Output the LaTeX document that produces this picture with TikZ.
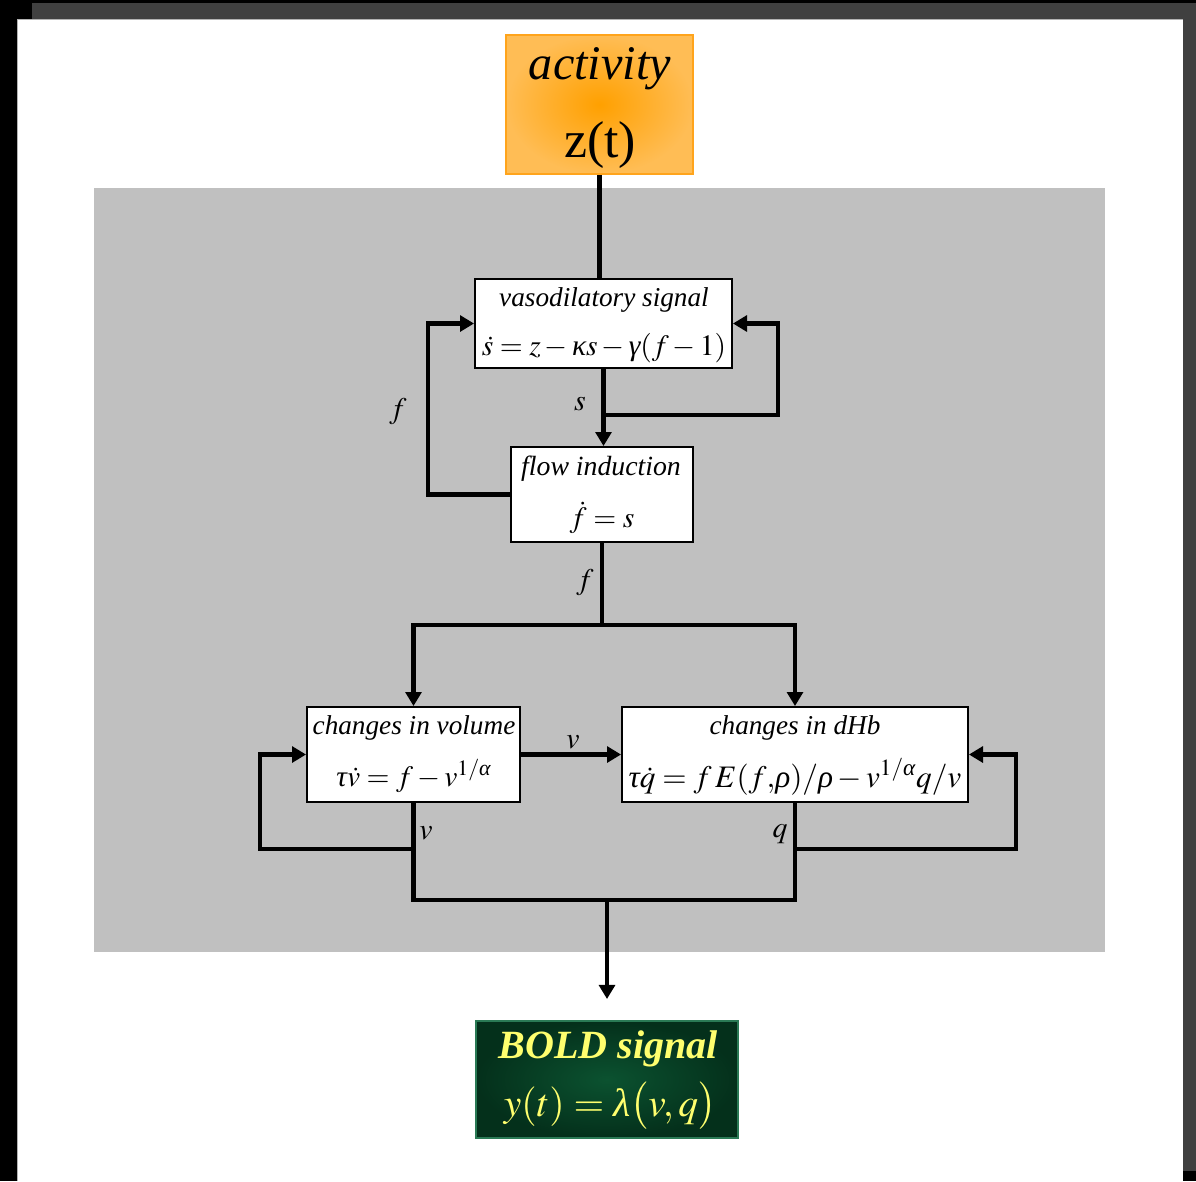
\documentclass[tikz,border=0pt]{standalone}
\usepackage{amsmath}
\usepackage{mathptmx}
\usepackage{fontspec}
\setmainfont{Liberation Serif}
\usetikzlibrary{arrows.meta}
\definecolor{panelgray}{HTML}{C0C0C0}
\definecolor{framegray}{HTML}{404040}
\definecolor{actin}{HTML}{FFA000}
\definecolor{actout}{HTML}{FFBD55}
\definecolor{actedge}{HTML}{FFA41C}
\definecolor{boldin}{HTML}{0B5230}
\definecolor{boldout}{HTML}{04301B}
\definecolor{boldedge}{HTML}{2A7A55}
\definecolor{boldtext}{HTML}{FFFF6E}
% italic Greek letters taken from the text font
\newcommand{\gi}[1]{\text{\normalfont\itshape #1}}
\begin{document}
\begin{tikzpicture}[x=0.02cm,y=-0.02cm,
  conn/.style={line width=2.3pt},
  arr/.style={conn,-{Triangle[length=8pt,width=9pt]}},
  box/.style={draw=black,fill=white,line width=1.1pt,inner sep=0pt},
  ttl/.style={anchor=base,inner sep=0pt,font=\fontsize{15.5}{18}\selectfont\itshape},
  eqn/.style={anchor=base,inner sep=0pt,font=\fontsize{16.8}{20}\selectfont},
  lbl/.style={anchor=base,inner sep=0pt,font=\fontsize{17}{20}\selectfont}]
\useasboundingbox (0,0) rectangle (1196,1181);
% window frame
\fill[black] (0,0) rectangle (1196,1181);
\fill[framegray] (32,3) rectangle (1196,1171);
\fill[white] (17,19) rectangle (1183,1181);
\draw[gray!60,line width=0.5pt] (17.3,1181) -- (17.3,19.3) -- (1183,19.3);
% model panel
\fill[panelgray] (94,188) rectangle (1105,952);

% boxes
\node[draw=actedge,line width=0.9pt,inner color=actin,outer color=actout,
      minimum width=3.74cm,minimum height=2.78cm,inner sep=0pt] (act) at (599.5,104.5) {};
\node[box,minimum width=5.14cm,minimum height=1.78cm] (vaso) at (603.5,323.5) {};
\node[box,minimum width=3.64cm,minimum height=1.9cm] (flow) at (602,494.5) {};
\node[box,minimum width=4.26cm,minimum height=1.9cm] (vol) at (413.5,754.5) {};
\node[box,minimum width=6.92cm,minimum height=1.9cm] (dhb) at (795,754.5) {};
\node[draw=boldedge,line width=1.2pt,inner color=boldin,outer color=boldout,
      minimum width=5.24cm,minimum height=2.34cm,inner sep=0pt] (bold) at (607,1079.5) {};

% box texts
\node[anchor=base,inner sep=0pt,font=\fontsize{27.5}{32}\selectfont\itshape] (actT) at (600,79) {activity};
\node[anchor=base,inner sep=0pt,font=\fontsize{29.5}{34}\selectfont] (actE) at (600,157) {z(t)};
\node[ttl] (vasoT) at (604,306) {vasodilatory signal};
\node[eqn] (vasoE) at (604,355) {$\dot s = z - \gi{κ}s - \gi{γ}(f-1)$};
\node[ttl] (flowT) at (601,475) {\fontsize{15.8}{18}\selectfont flow induction};
\node[eqn] (flowE) at (602,527) {$\dot f = s$};
\node[ttl] (volT) at (414,734) {changes in volume};
\node[eqn] (volE) at (414,786) {$\gi{τ}\dot v = f - v^{1/\gi{α}}$};
\node[ttl] (dhbT) at (795,734) {changes in dHb};
\node[eqn] (dhbE) at (795,787) {\fontsize{17.8}{20}\selectfont$\gi{τ}\dot q = f\,E(f{,}\gi{ρ})/\gi{ρ} - v^{1/\gi{α}}q/v$};
\node[anchor=base,inner sep=0pt,text=boldtext,font=\fontsize{22.8}{26}\selectfont\bfseries\itshape] (boldT) at (608,1058) {BOLD signal};
\node[anchor=base,inner sep=0pt,text=boldtext,font=\fontsize{22.5}{26}\selectfont] (boldE) at (610,1116) {$y(t) = \gi{λ}\bigl(v,q\bigr)$};

% signal labels
\node[lbl] (ls) at (580,410) {$s$};
\node[lbl] (lf1) at (398,418) {$f$};
\node[lbl] (lf2) at (585,589) {$f$};
\node[lbl] (lv1) at (573,748) {$v$};
\node[lbl] (lv2) at (426,839) {$v$};
\node[lbl] (lq) at (780,837) {$q$};

% junction points
\coordinate (sj) at (603.5,415);
\coordinate (sr) at (778,415);
\coordinate (fl) at (428,494.5);
\coordinate (fj) at (602,625);
\coordinate (vb) at (413.5,849);
\coordinate (vl) at (260,849);
\coordinate (qb) at (795,849);
\coordinate (qr) at (1016,849);
\coordinate (vbot) at (413.5,900);
\coordinate (qbot) at (795,900);
\coordinate (oj) at (607,900);
\coordinate (otip) at (607,999);

% connectors
\draw[conn] (act.south) -- (act.south |- vaso.north);
\draw[arr] (vaso.south) -- (vaso.south |- flow.north);
\draw[arr] (sj) -- (sr) |- (vaso.east);
\draw[arr] (flow.west) -- (fl) |- (vaso.west);
\draw[conn] (flow.south) -- (fj);
\draw[arr] (fj) -| (vol.north);
\draw[arr] (fj) -| (dhb.north);
\draw[arr] (vol.east) -- (dhb.west);
\draw[arr] (vb) -- (vl) |- (vol.west);
\draw[arr] (qb) -- (qr) |- (dhb.east);
\draw[conn] (vol.south) -- (vbot) -- (qbot) -- (dhb.south);
\draw[arr] (oj) -- (otip);
\end{tikzpicture}
\end{document}
